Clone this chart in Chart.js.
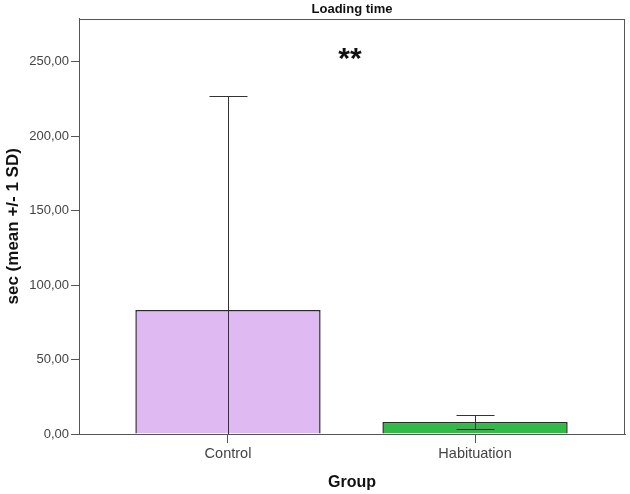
<!DOCTYPE html>
<html>
<head>
<meta charset="utf-8">
<script src="https://cdn.jsdelivr.net/npm/chart.js@4"></script>
<style>
  html, body { margin: 0; padding: 0; background: #fff; }
  #wrap { width: 630px; height: 494px; }
</style>
</head>
<body>
<div id="wrap"><canvas id="myChart" width="630" height="494"></canvas></div>
<script>
// data
var groups = ["Control", "Habituation"];
var means = [83.2, 8.0];
var sds = [143.5, 4.7];
var yTicks = [0, 50, 100, 150, 200, 250];
var barColors = ["#dfb9f2", "#2fbb45"];

var FONT = "'Liberation Sans', Arial, sans-serif";

// draws mean +/- 1 SD whiskers through the scales
var errorBars = {
  id: "errorBars",
  afterDatasetsDraw: function(chart) {
    var ctx = chart.ctx;
    var x = chart.scales.x, y = chart.scales.y;
    var area = chart.chartArea;
    ctx.save();
    ctx.beginPath();
    ctx.rect(area.left, area.top, area.right - area.left, area.bottom - area.top);
    ctx.clip();
    ctx.strokeStyle = "#333";
    ctx.lineWidth = 1;
    for (var i = 0; i < means.length; i++) {
      var cx = Math.round(x.getPixelForValue(i)) + 0.5;
      var hi = Math.round(y.getPixelForValue(means[i] + sds[i])) + 0.5;
      var lo = Math.round(y.getPixelForValue(means[i] - sds[i])) + 0.5;
      ctx.beginPath();
      ctx.moveTo(cx, hi); ctx.lineTo(cx, lo);
      ctx.moveTo(cx - 19, hi); ctx.lineTo(cx + 19, hi);
      ctx.moveTo(cx - 19, lo); ctx.lineTo(cx + 19, lo);
      ctx.stroke();
    }
    ctx.restore();
  }
};

// box round the plot and the significance stars
var frame = {
  id: "frame",
  afterDraw: function(chart) {
    var ctx = chart.ctx;
    var a = chart.chartArea;
    ctx.save();
    ctx.strokeStyle = "#555";
    ctx.lineWidth = 1;
    ctx.strokeRect(Math.round(a.left) + 0.5, Math.round(a.top) + 0.5,
                   Math.round(a.right - a.left) - 1, Math.round(a.bottom - a.top));
    ctx.fillStyle = "#111";
    ctx.font = "bold 30px " + FONT;
    ctx.textAlign = "center";
    ctx.textBaseline = "middle";
    ctx.fillText("**", (a.left + a.right) / 2 - 2, 60);
    ctx.restore();
  }
};

var ctx = document.getElementById("myChart").getContext("2d");
var chart = new Chart(ctx, {
  type: "bar",
  data: {
    datasets: [{
      data: means.map(function(m, i) { return { x: i, y: m }; }),
      backgroundColor: barColors,
      borderColor: "#2a2a2a",
      borderWidth: 1.5,
      barPercentage: 0.75,
      categoryPercentage: 1.0
    }]
  },
  options: {
    responsive: false,
    animation: false,
    layout: { padding: { left: 0, right: 5, top: 0, bottom: 0 } },
    plugins: {
      legend: { display: false },
      tooltip: { enabled: false },
      title: {
        display: true,
        text: "Loading time",
        fullSize: false,
        color: "#111",
        font: { family: FONT, size: 13, weight: "bold" },
        padding: { top: 2, bottom: 1 }
      }
    },
    scales: {
      x: {
        type: "linear",
        offset: false,
        bounds: "data",
        min: -0.603,
        max: 1.607,
        grid: { display: true, drawOnChartArea: false, drawTicks: true, tickLength: 9, offset: false, color: "#555" },
        border: { display: true, color: "#555" },
        afterBuildTicks: function(scale) {
          scale.ticks = groups.map(function(g, i) { return { value: i }; });
        },
        ticks: {
          color: "#444", padding: 2,
          font: { family: FONT, size: 14.5 },
          callback: function(v) { return groups[v]; }
        },
        title: {
          display: true, text: "Group", color: "#111",
          font: { family: FONT, size: 16, weight: "bold" },
          padding: { top: 0, bottom: 2 }
        },
        afterFit: function(scale) { scale.height = 60; }
      },
      y: {
        min: 0,
        max: 279,
        grid: { display: true, drawOnChartArea: false, drawTicks: true, tickLength: 8, color: "#555" },
        border: { display: true, color: "#555" },
        afterBuildTicks: function(scale) {
          scale.ticks = yTicks.map(function(v) { return { value: v }; });
        },
        ticks: {
          color: "#444", padding: 2,
          font: { family: FONT, size: 13 },
          callback: function(v) { return v.toFixed(2).replace(".", ","); }
        },
        title: {
          display: true, text: "sec (mean +/- 1 SD)", color: "#111",
          font: { family: FONT, size: 17, weight: "bold" },
          padding: { top: 3, bottom: 0 }
        },
        afterFit: function(scale) { scale.width = 79; }
      }
    }
  },
  plugins: [errorBars, frame]
});
</script>
</body>
</html>
